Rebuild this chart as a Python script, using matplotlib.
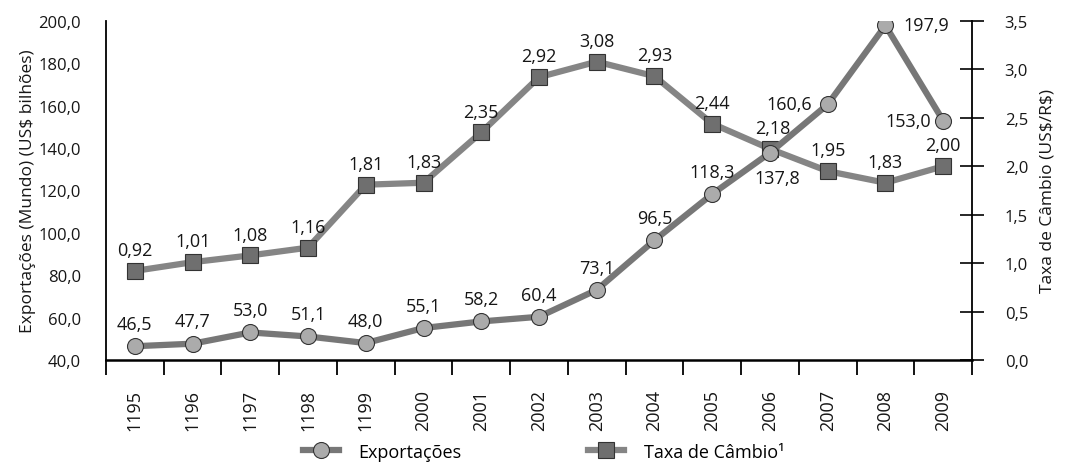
import matplotlib
matplotlib.use("Agg")
import matplotlib.pyplot as plt
from matplotlib.ticker import FixedLocator, FuncFormatter

plt.rcParams['font.family'] = ['Open Sans', 'DejaVu Sans']

years = ["1195", "1196", "1197", "1198", "1199", "2000", "2001", "2002",
         "2003", "2004", "2005", "2006", "2007", "2008", "2009"]
exports = [46.5, 47.7, 53.0, 51.1, 48.0, 55.1, 58.2, 60.4, 73.1, 96.5,
           118.3, 137.8, 160.6, 197.9, 153.0]
rates = [0.92, 1.01, 1.08, 1.16, 1.81, 1.83, 2.35, 2.92, 3.08, 2.93,
         2.44, 2.18, 1.95, 1.83, 2.00]

def br(v, nd):
    return f"{v:.{nd}f}".replace(".", ",")

fig = plt.figure(figsize=(10.66, 4.64), dpi=100)
ax = fig.add_axes([106/1066, 1-361/464, (972-106)/1066, (361-22)/464])
ax2 = ax.twinx()

x = list(range(len(years)))
fs_tick = 12
fs_year = 13
fs_data = 13
fs_lab = 12.5
fs_leg = 13
txt = "#161616"

ax.set_ylim(40, 200)
ax2.set_ylim(0, 3.5)
ax.set_xlim(-0.5, len(years) - 0.5)

ax2.plot(x, rates, color="#858585", lw=4.5, marker="s", ms=11.5,
         mfc="#6f6f6f", mec="#333333", mew=0.8, zorder=3, label="Taxa de Câmbio¹")
ax.plot(x, exports, color="#777777", lw=4.5, marker="o", ms=11.5,
        mfc="#ababab", mec="#333333", mew=0.8, zorder=3, label="Exportações")
ax.set_zorder(ax2.get_zorder() + 1)
ax.patch.set_visible(False)

# labels for exports
offs_e = {11: (5, -18, 'center'), 12: (-11, 0, 'right'),
          13: (13, 0, 'left'), 14: (-9, 0, 'right')}
for i, v in enumerate(exports):
    dx, dy, ha = offs_e.get(i, (0, 16, 'center'))
    ax.annotate(br(v, 1), (i, v), xytext=(dx, dy), textcoords='offset points',
                ha=ha, va='center', fontsize=fs_data, color=txt, zorder=5)
offs_r = {11: (2, 15)}
for i, v in enumerate(rates):
    dx, dy = offs_r.get(i, (0, 15))
    ax2.annotate(br(v, 2), (i, v), xytext=(dx, dy), textcoords='offset points',
                 ha='center', va='center', fontsize=fs_data, color=txt, zorder=5)

# axes styling
ax.spines["top"].set_visible(False)
ax2.spines["top"].set_visible(False)
ax2.spines["left"].set_visible(False)
ax2.spines["bottom"].set_visible(False)
ax.spines["right"].set_visible(False)
ax.spines["left"].set_linewidth(1.3)
ax.spines["bottom"].set_linewidth(1.8)
ax2.spines["right"].set_linewidth(1.3)

ax.set_yticks([40, 60, 80, 100, 120, 140, 160, 180, 200])
ax.yaxis.set_major_formatter(FuncFormatter(lambda v, p: br(v, 1)))
ax.tick_params(axis='y', length=0, pad=18, labelsize=fs_tick, colors=txt)

ax2.set_yticks([0, 0.5, 1, 1.5, 2, 2.5, 3, 3.5])
ax2.yaxis.set_major_formatter(FuncFormatter(lambda v, p: br(v, 1)))
ax2.tick_params(axis='y', direction='inout', length=17, width=1.3, pad=15,
                labelsize=fs_tick, colors=txt)

ax.xaxis.set_major_locator(FixedLocator([i - 0.5 for i in range(len(years) + 1)]))
ax.xaxis.set_minor_locator(FixedLocator(x))
ax.xaxis.set_major_formatter(FuncFormatter(lambda v, p: ""))
ax.xaxis.set_minor_formatter(FuncFormatter(lambda v, p: years[int(round(v))]))
ax.tick_params(axis='x', which='major', direction='out', length=11, width=1.3)
ax.tick_params(axis='x', which='minor', length=0, pad=21, labelsize=fs_year,
               labelrotation=90, colors=txt)

ax.set_ylabel("Exportações (Mundo) (US\\$ bilhões)", fontsize=fs_lab, color=txt, labelpad=2)
ax2.set_ylabel("Taxa de Câmbio (US\\$/R\\$)", fontsize=fs_lab, color=txt, labelpad=8)

h1, l1 = ax.get_legend_handles_labels()
h2, l2 = ax2.get_legend_handles_labels()
fig.legend(h1 + h2, l1 + l2, loc='lower center', bbox_to_anchor=(0.51, -0.03),
           ncol=2, frameon=False, fontsize=fs_leg, handlelength=2.0, columnspacing=7.0,
           handletextpad=1.1)

fig.savefig("out.png", dpi=100)
